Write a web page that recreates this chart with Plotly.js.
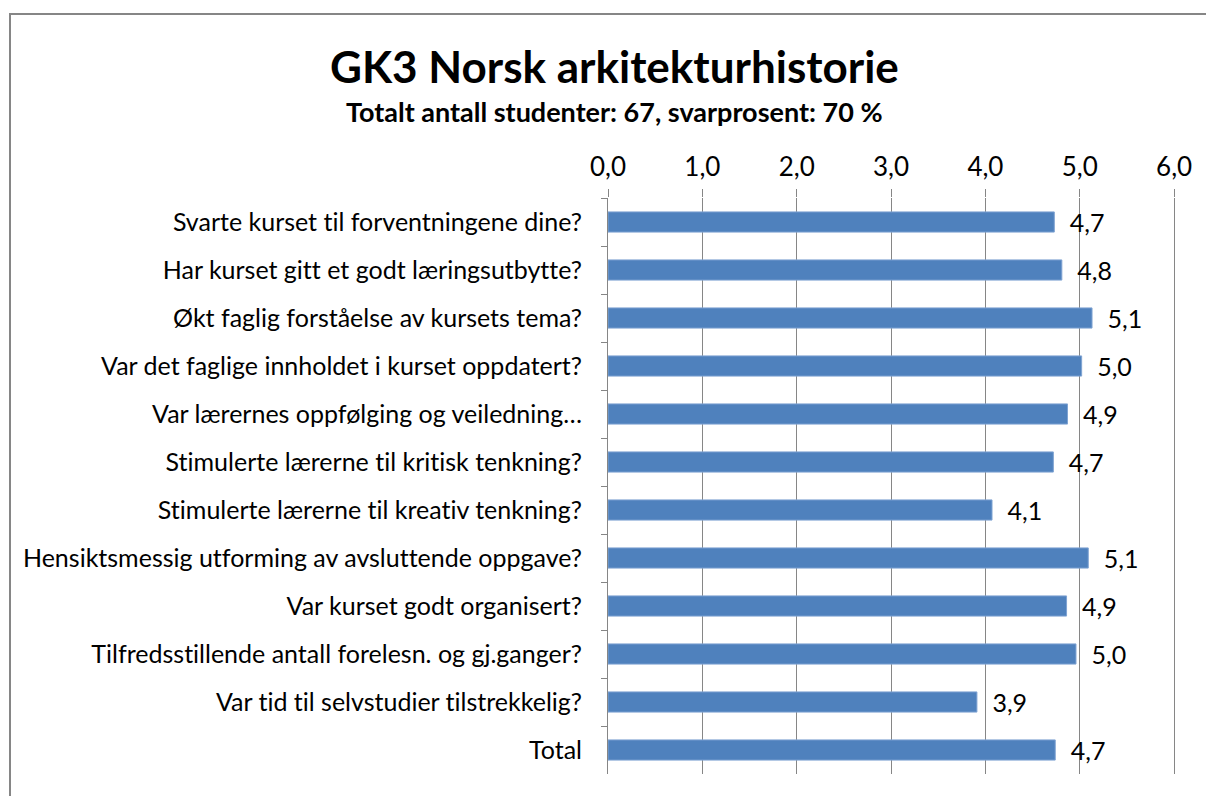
<!DOCTYPE html>
<html>
<head>
<meta charset="utf-8">
<script src="https://cdn.plot.ly/plotly-3.0.1.min.js"></script>
<style>
  html, body { margin: 0; padding: 0; background: #fff; }
  #wrap { position: relative; width: 1206px; height: 796px; overflow: hidden; }
  #frame { position: absolute; left: 9px; top: 13px; width: 1300px; height: 900px;
           border-left: 2px solid #868686; border-top: 2px solid #868686; pointer-events: none; }
  #chart { position: absolute; left: 0; top: 0; width: 1206px; height: 796px; }
  #chart text { font-variant-ligatures: none; font-feature-settings: "liga" 0, "clig" 0; }
</style>
</head>
<body>
<div id="wrap">
  <div id="chart"></div>
  <div id="frame"></div>
</div>
<script>
const titleText = "GK3 Norsk arkitekturhistorie";
const subtitleText = "Totalt antall studenter: 67, svarprosent: 70 %";

const categories = [
  "Svarte kurset til forventningene dine?",
  "Har kurset gitt et godt læringsutbytte?",
  "Økt faglig forståelse av kursets tema?",
  "Var det faglige innholdet i kurset oppdatert?",
  "Var lærernes oppfølging og veiledning…",
  "Stimulerte lærerne til kritisk tenkning?",
  "Stimulerte lærerne til kreativ tenkning?",
  "Hensiktsmessig utforming av avsluttende oppgave?",
  "Var kurset godt organisert?",
  "Tilfredsstillende antall forelesn. og gj.ganger?",
  "Var tid til selvstudier tilstrekkelig?",
  "Total"
];
const values = [4.73, 4.81, 5.13, 5.02, 4.87, 4.72, 4.07, 5.09, 4.86, 4.96, 3.91, 4.74];
const xTicks = [0, 1, 2, 3, 4, 5, 6];

const font = "Lato, Open Sans, sans-serif";

const trace = {
  type: "bar",
  orientation: "h",
  x: values,
  y: categories,
  width: 0.42,
  marker: { color: "#4F81BD", line: { color: "#7FA3D2", width: 1 } },
  texttemplate: "\u2002%{x:.1f}",
  textposition: "outside",
  constraintext: "none",
  cliponaxis: false,
  textfont: { family: font, size: 25, color: "#000" },
  hoverinfo: "skip"
};

const layout = {
  width: 1206, height: 796,
  margin: { l: 608, r: 30, t: 198, b: 22, pad: 0 },
  paper_bgcolor: "#fff", plot_bgcolor: "#fff",
  separators: ", ",
  showlegend: false,
  font: { family: font, size: 25, color: "#000" },
  xaxis: {
    side: "top", range: [0, 6.02], tickvals: xTicks, tickformat: ".1f",
    showgrid: true, gridcolor: "#868686", gridwidth: 1,
    zeroline: false, showline: false,
    ticks: "outside", ticklen: 8, tickcolor: "#868686", tickwidth: 1,
    ticklabelstandoff: 3,
    tickfont: { family: font, size: 26, color: "#000" },
    fixedrange: true
  },
  yaxis: {
    autorange: "reversed", type: "category",
    showline: true, linecolor: "#868686", linewidth: 1,
    ticks: "outside", tickson: "boundaries", ticklen: 6, tickcolor: "#868686",
    ticklabelstandoff: 20,
    showgrid: false, zeroline: false,
    tickfont: { family: font, size: 25, color: "#000" },
    fixedrange: true
  },
  annotations: [
    { text: "<b>" + titleText + "</b>", xref: "paper", yref: "paper", x: 0.5, y: 1, xanchor: "center", yanchor: "middle",
      showarrow: false, font: { family: font, size: 44, color: "#000" } },
    { text: "<b>" + subtitleText + "</b>", xref: "paper", yref: "paper", x: 0.5, y: 1, xanchor: "center", yanchor: "middle",
      showarrow: false, font: { family: font, size: 27, color: "#000" } }
  ]
};

const plotH = 796 - 198 - 22;
const plotW = 1206 - 608 - 30;
function paperY(py) { return (796 - 22 - py) / plotH; }
function paperX(px) { return (px - 608) / plotW; }
layout.annotations[0].x = paperX(614); layout.annotations[0].y = paperY(66);
layout.annotations[1].x = paperX(614); layout.annotations[1].y = paperY(112);

Plotly.newPlot("chart", [trace], layout, { displayModeBar: false, staticPlot: true });
</script>
</body>
</html>
